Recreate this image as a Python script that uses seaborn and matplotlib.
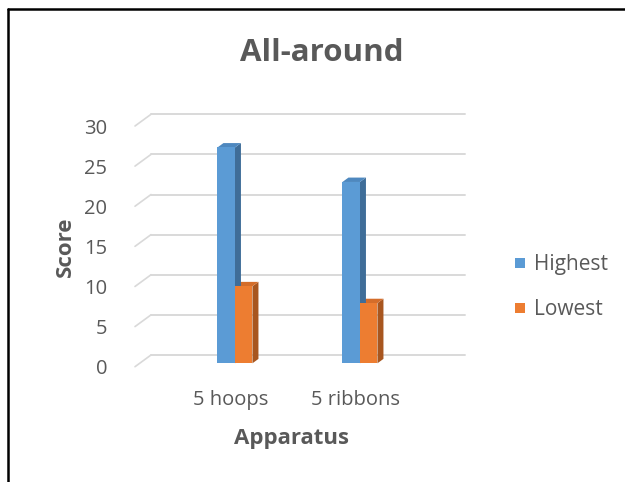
import numpy as np
import pandas as pd
import matplotlib
matplotlib.use("Agg")
import matplotlib.pyplot as plt
import seaborn as sns
from matplotlib.patches import Polygon, Rectangle
from matplotlib.lines import Line2D
from matplotlib import transforms

# dados
aparelhos = ["5 hoops", "5 ribbons"]
series = ["Highest", "Lowest"]
highest = [26.9, 22.6]
lowest = [9.6, 7.5]
y_ticks = [0, 5, 10, 15, 20, 25, 30]

cores = {"Highest": "#5B9BD5", "Lowest": "#ED7D31"}
cores_lado = {"Highest": "#3F6D98", "Lowest": "#A8561F"}
cores_topo = {"Highest": "#4E88BF", "Lowest": "#D46D2A"}
cinza = "#595959"

df = pd.DataFrame({
    "Apparatus": aparelhos * 2,
    "Serie": [series[0]] * 2 + [series[1]] * 2,
    "Score": highest + lowest,
})

sns.set_style("white")
plt.rcParams["font.family"] = ["Open Sans", "DejaVu Sans"]

W, H = 625, 482
fig = plt.figure(figsize=(W / 100, H / 100), dpi=100)

# area do grafico (plano da frente)
ax = fig.add_axes([135 / W, 1 - 366.7 / H, 314 / W, 240.7 / H])

sns.barplot(data=df, x="Apparatus", y="Score", hue="Serie", order=aparelhos,
            hue_order=series, palette=cores, width=0.28, saturation=1,
            linewidth=0, ax=ax, legend=False)
ax.set_xlim(-0.762, 1.75)
ax.set_ylim(0, 30)

# deslocamentos em pixels (efeito 3D)
d_grade = (16, 11.7)     # parede do fundo
d_barra = (4.7, 3.4)     # frente das barras
d_lado = (6.0, 4.4)      # profundidade das barras

tr = ax.transData
ident = transforms.IdentityTransform()
# linhas de grade na parede do fundo + diagonais
for v in y_ticks:
    x0, y0 = tr.transform((ax.get_xlim()[0], v))
    x1, y1 = tr.transform((ax.get_xlim()[1], v))
    ax.add_line(Line2D([x0 + d_grade[0], x1 + d_grade[0]],
                       [y0 + d_grade[1], y1 + d_grade[1]],
                       color="#D9D9D9", lw=1.4, transform=ident, clip_on=False, zorder=0.5))
    ax.add_line(Line2D([x0, x0 + d_grade[0]], [y0, y0 + d_grade[1]],
                       color="#D9D9D9", lw=1.2, transform=ident, clip_on=False, zorder=0.5))

# barras com faces laterais e topo
n = len(aparelhos)
for i, p in enumerate(list(ax.patches)):
    serie = series[i // n]
    p.set_transform(tr + transforms.Affine2D().translate(*d_barra))
    p.set_clip_on(False)
    p.set_zorder(3)
    (bx0, by0) = tr.transform((p.get_x(), 0))
    (bx1, by1) = tr.transform((p.get_x() + p.get_width(), p.get_height()))
    bx0 += d_barra[0]; bx1 += d_barra[0]
    by0 += d_barra[1]; by1 += d_barra[1]
    dx, dy = d_lado
    lado = Polygon([(bx1, by0), (bx1 + dx, by0 + dy), (bx1 + dx, by1 + dy), (bx1, by1)],
                   closed=True, facecolor=cores_lado[serie], edgecolor="none",
                   transform=ident, clip_on=False, zorder=2.5 - i * 0.01)
    topo = Polygon([(bx0, by1), (bx0 + dx, by1 + dy), (bx1 + dx, by1 + dy), (bx1, by1)],
                   closed=True, facecolor=cores_topo[serie], edgecolor="none",
                   transform=ident, clip_on=False, zorder=2.5 - i * 0.01)
    ax.add_patch(lado)
    ax.add_patch(topo)

ax.set_xlim(-0.762, 1.75)
ax.set_ylim(0, 30)
for s in ax.spines.values():
    s.set_visible(False)
ax.set_yticks(y_ticks)
ax.tick_params(axis="both", length=0, labelsize=14.5, labelcolor=cinza, pad=20)
ax.tick_params(axis="x", pad=17)
ax.set_xlabel("Apparatus", fontsize=16, fontweight="bold", color=cinza, labelpad=13)
ax.set_ylabel("Score", fontsize=16, fontweight="bold", color=cinza, labelpad=6)
ax.patch.set_alpha(0)

fig.text(322 / W, 1 - 53 / H, "All-around", fontsize=22.5, fontweight="bold",
         color=cinza, ha="center", va="center")

# legenda
for k, s in enumerate(series):
    yc = 1 - (263 + 45 * k) / H
    fig.add_artist(Rectangle((515 / W, yc - 5 / H), 10 / W, 10 / H,
                             facecolor=cores[s], edgecolor="none",
                             transform=fig.transFigure))
    fig.text(534 / W, yc - 1.5 / H, s, fontsize=15, color=cinza, ha="left", va="center")

# moldura
fig.add_artist(Line2D([8 / W, 8 / W], [0, 1 - 9 / H], color="black", lw=1.8,
                      transform=fig.transFigure))
fig.add_artist(Line2D([8 / W, 1], [1 - 9 / H, 1 - 9 / H], color="black", lw=1.8,
                      transform=fig.transFigure))

fig.savefig("out.png", dpi=100)
